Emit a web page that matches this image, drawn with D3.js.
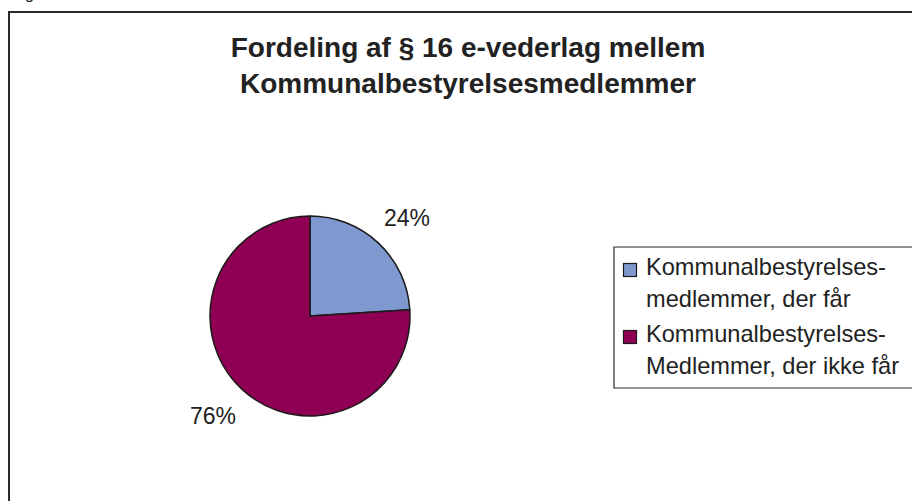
<!DOCTYPE html>
<html><head><meta charset="utf-8">
<script src="https://cdn.jsdelivr.net/npm/d3@7"></script>
<style>body{margin:0;background:#fff}svg{display:block}text{font-family:"Liberation Sans",Arial,sans-serif;fill:#222}</style>
</head><body>
<script>
const titleLines = ["Fordeling af § 16 e-vederlag mellem", "Kommunalbestyrelsesmedlemmer"];
const categories = ["Kommunalbestyrelses-medlemmer, der får", "Kommunalbestyrelses-Medlemmer, der ikke får"];
const legendLines = [["Kommunalbestyrelses-", "medlemmer, der får"], ["Kommunalbestyrelses-", "Medlemmer, der ikke får"]];
const values = [24, 76];
const labels = ["24%", "76%"];
const colors = ["#7F98CF", "#8F0054"];

const W = 912, H = 501;
const svg = d3.select("body").append("svg").attr("width", W).attr("height", H);

// cut-off glyph above the frame
svg.append("text").attr("x", 25).attr("y", -1).attr("font-size", 16).text("g");

// outer frame (extends beyond right/bottom)
svg.append("path").attr("d", `M9,${H+5} L9,12 L${W+5},12`).attr("fill", "none")
  .attr("stroke", "#2a2a2a").attr("stroke-width", 2);

// title
svg.append("text").attr("x", 468).attr("text-anchor", "middle")
  .attr("font-size", 28).attr("font-weight", "bold")
  .selectAll("tspan").data(titleLines).join("tspan")
  .attr("x", 468).attr("y", (d, i) => 57 + i * 36).text(d => d);

// pie
const cx = 310, cy = 316, r = 100;
const pie = d3.pie().sort(null).value(d => d)(values);
const arc = d3.arc().innerRadius(0).outerRadius(r);
const g = svg.append("g").attr("transform", `translate(${cx},${cy})`);
g.selectAll("path").data(pie).join("path")
  .attr("d", arc).attr("fill", (d, i) => colors[i])
  .attr("stroke", "#1a1a1a").attr("stroke-width", 1.5).attr("stroke-linejoin", "round");

// data labels
const labelPos = [[407, 226], [213, 424]];
svg.selectAll("text.lbl").data(labels).join("text").attr("class", "lbl")
  .attr("x", (d, i) => labelPos[i][0]).attr("y", (d, i) => labelPos[i][1])
  .attr("text-anchor", "middle").attr("font-size", 23).text(d => d);

// legend
svg.append("path").attr("d", `M${W+5},247 L614,247 L614,388 L${W+5},388`)
  .attr("fill", "#fff").attr("stroke", "#2a2a2a").attr("stroke-width", 1.2);
const leg = svg.selectAll("g.leg").data(categories).join("g").attr("class", "leg")
  .attr("transform", (d, i) => `translate(0,${i * 67})`);
leg.append("rect").attr("x", 623.5).attr("y", 263.5).attr("width", 13).attr("height", 13)
  .attr("fill", (d, i) => colors[i]).attr("stroke", "#1a1a1a").attr("stroke-width", 1.2);
leg.each(function(d, i) {
  d3.select(this).append("text").attr("font-size", 23.6)
    .selectAll("tspan").data(legendLines[i]).join("tspan")
    .attr("x", 646).attr("y", (t, j) => 275 + j * 32).text(t => t);
});
</script>
</body></html>
